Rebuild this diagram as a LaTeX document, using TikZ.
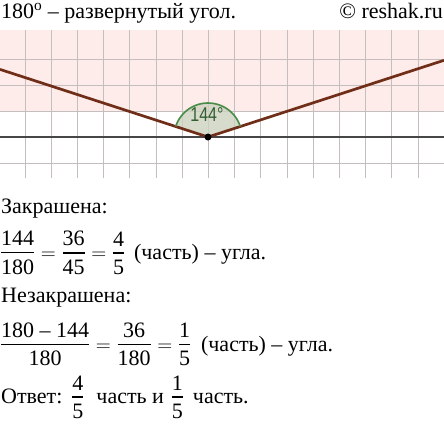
\documentclass[tikz,border=0pt]{standalone}
\usepackage{fontspec}
\setmainfont{Liberation Serif}
\newfontfamily\labelfont{Liberation Sans}
\definecolor{pinkbg}{RGB}{253,236,234}
\definecolor{gridc}{RGB}{196,190,190}
\definecolor{rayc}{RGB}{112,46,24}
\definecolor{axisc}{RGB}{70,70,70}
\definecolor{arcc}{RGB}{72,140,72}
\definecolor{labelc}{RGB}{50,95,50}
\definecolor{sectorc}{RGB}{205,210,190}
% fraction: numerator, bar, denominator
\newcommand{\fr}[2]{%
  \setbox0\hbox{#1}\setbox2\hbox{#2}%
  \dimen0=\wd0 \ifdim\wd2>\dimen0 \dimen0=\wd2 \fi
  \kern1pt\lower14.5pt\vbox{\offinterlineskip
    \hbox to\dimen0{\hfil\box0\hfil}\kern6.3pt
    \hrule height1.2pt\kern6pt
    \hbox to\dimen0{\hfil\box2\hfil}}\kern1pt}
\begin{document}
\begin{tikzpicture}
    [
        x=1pt, y=1pt,
        txt/.style = {anchor=base west, inner sep=0pt, font=\fontsize{22}{26}\selectfont},
        gridline/.style = {draw=gridc, line width=0.8pt},
        ray/.style = {draw=rayc, line width=2.7pt},
        axisline/.style = {draw=axisc, line width=2pt},
        arcline/.style = {draw=arcc, line width=1.6pt},
        arcfill/.style = {fill=sectorc, fill opacity=0.8},
    ]
    \useasboundingbox (0,0) rectangle (444,-423);

    % squared paper
    \fill[pinkbg] (0,-30) rectangle (444,-111);
    \foreach \i in {0,...,15}
        \draw[gridline] ({25+26.2*\i},-30) -- ({25+26.2*\i},-178);
    \foreach \j in {59,85,111,163}
        \draw[gridline] (0,-\j) -- (444,-\j);

    \coordinate (O) at (208,-137);
    \coordinate (A) at (0,-69.4);
    \coordinate (B) at (444,-60.3);
    \coordinate (L) at (0,-137);
    \coordinate (R) at (444,-137);

    \fill[arcfill] (O) -- ++(18:34) arc[start angle=18, end angle=162, radius=34] -- cycle;
    \draw[axisline] (L) -- (R);
    \draw[ray] (A) -- (O) -- (B);
    \draw[arcline] (O) ++(18:34) arc[start angle=18, end angle=162, radius=34];
    \fill (O) circle (3.5);
    \node[inner sep=0pt, text=labelc, font=\labelfont\fontsize{20}{20}\selectfont] (deg) at (207,-115) {\scalebox{0.8}[1]{144°}};

    % text
    \node[txt] (title) at (1,-18.5) {180\textsuperscript{o} – развернутый угол.};
    \node[txt, anchor=base east] (site) at (443,-18.5) {© reshak.ru};
    \node[txt] (shaded) at (1,-213) {Закрашена:};
    \node[txt] (calc1) at (0,-259.5) {$\fr{144}{180}=\fr{36}{45}=\fr{4}{5}$\hspace{9pt}(часть) – угла.};
    \node[txt] (unshaded) at (1,-302) {Незакрашена:};
    \node[txt] (calc2) at (0,-351) {$\fr{180 – 144}{180}=\fr{36}{180}=\fr{1}{5}$\hspace{10pt}(часть) – угла.};
    \node[txt] (answer) at (1,-403.5) {Ответ:\hspace{9pt}\fr{4}{5}\hspace{12pt}часть и\hspace{7pt}\fr{1}{5}\hspace{9pt}часть.};
\end{tikzpicture}
\end{document}
